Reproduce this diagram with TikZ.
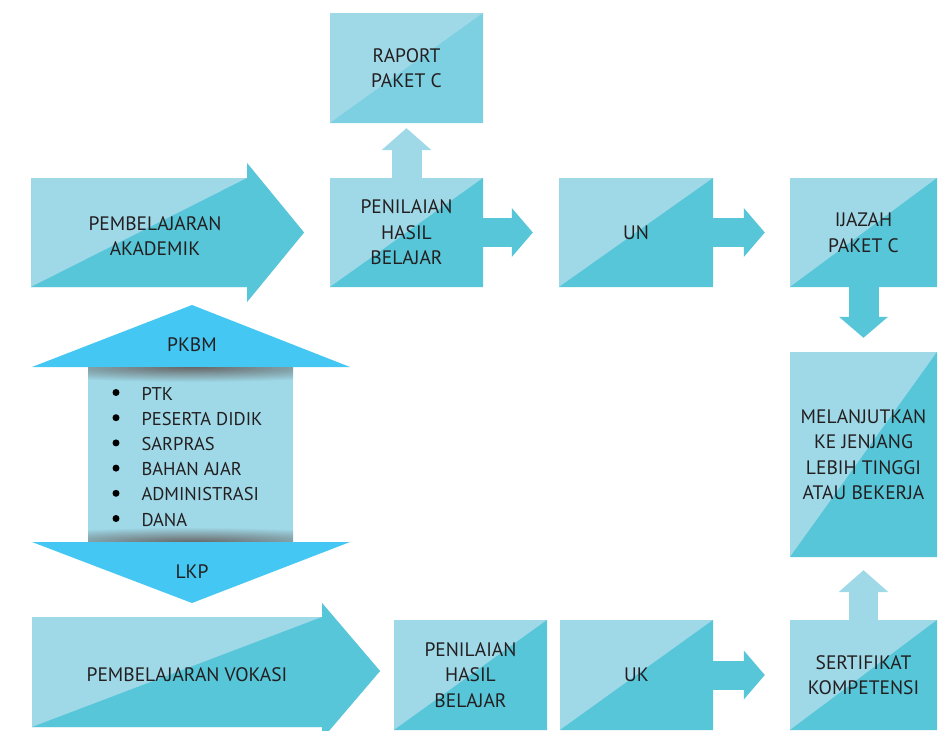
\documentclass[tikz,border=0pt]{standalone}
\usepackage{fontspec}
\setmainfont{PT Sans}
\usetikzlibrary{arrows.meta}

\definecolor{lightc}{RGB}{159,217,232}
\definecolor{darkc}{RGB}{87,198,217}
\definecolor{midc}{RGB}{125,208,226}
\definecolor{brightc}{RGB}{68,199,242}
\definecolor{textc}{RGB}{35,31,32}

\tikzset{
  splitbox/.style={rectangle, fill=lightc, inner sep=0pt, align=center,
    path picture={\fill[#1] (path picture bounding box.south west)
      -- (path picture bounding box.north east) |- cycle;}},
  splitbox/.default=darkc,
  flow/.style={draw=#1, line width=29pt,
    -{Triangle[width=49pt,length=21pt,line width=0pt]}},
}

\begin{document}
\begin{tikzpicture}[x=1pt, y=-1pt, font=\fontsize{19.5}{25.5}\selectfont, text=textc]

      \useasboundingbox (0,0) rectangle (938,731);

      \fill[lightc] (31,178) -- (247,178) -- (247,163) -- (304,232.5)
        -- (247,302) -- (247,287) -- (31,287) -- cycle;
      \fill[darkc] (31,287) -- (247,178) -- (247,163) -- (304,232.5)
        -- (247,302) -- (247,287) -- cycle;

      \fill[lightc] (32,617) -- (322,617) -- (322,603) -- (380,671)
        -- (322,739) -- (322,727) -- (32,727) -- cycle;
      \fill[darkc] (32,727) -- (322,617) -- (322,603) -- (380,671)
        -- (322,739) -- (322,727) -- cycle;

      \fill[brightc] (32,367) -- (192,305) -- (350,367) -- cycle;
      \fill[lightc] (88,367) rectangle (293,542);
      \begin{scope}
        \clip (88,367) rectangle (293,542);
        \shade[inner color=black!60, outer color=lightc] (191,367) ellipse [x radius=200, y radius=15];
        \shade[inner color=black!60, outer color=lightc] (191,542) ellipse [x radius=200, y radius=15];
      \end{scope}
      \fill[brightc] (32,542) -- (350,542) -- (192,603) -- cycle;

      \node[align=center] (akademik) at (155,236) {PEMBELAJARAN\\AKADEMIK};
      \node (vokasi) at (187,675) {PEMBELAJARAN VOKASI};
      \node (pkbm)   at (192,345) {PKBM};
      \node (lkp)    at (192,572) {LKP};

      \begin{scope}[every node/.style={font=\fontsize{18.5}{24}\selectfont}]
        \foreach \t [count=\i] in {PTK, PESERTA DIDIK, SARPRAS, BAHAN AJAR, ADMINISTRASI, DANA} {
          \node[anchor=base west] (item\i) at (138,{400+25.2*(\i-1)}) {\t};
          \fill (116,{392.5+25.2*(\i-1)}) circle [radius=3.5];
        }
      \end{scope}

      \begin{scope}[every node/.style={splitbox, align=center}]
        \node[splitbox=midc, minimum width=153pt, minimum height=110pt] (1) at (406.5,68)    {RAPORT\\PAKET C};
        \node[minimum width=153pt, minimum height=109pt]                (2) at (406.5,232.5) {PENILAIAN\\HASIL\\BELAJAR};
        \node[minimum width=154pt, minimum height=109pt]                (3) at (636,232.5)   {UN};
        \node[minimum width=147pt, minimum height=109pt]                (4) at (863.5,232.5) {IJAZAH\\PAKET C};
        \node[minimum width=147pt, minimum height=205pt]                (5) at (863.5,454.5) {MELANJUTKAN\\KE JENJANG\\LEBIH TINGGI\\ATAU BEKERJA};
        \node[minimum width=147pt, minimum height=110pt]                (6) at (863.5,675)   {SERTIFIKAT\\KOMPETENSI};
        \node[minimum width=153pt, minimum height=110pt]                (7) at (636.5,675)   {UK};
        \node[minimum width=153pt, minimum height=110pt]                (8) at (470.5,675)   {PENILAIAN\\HASIL\\BELAJAR};
      \end{scope}

      \begin{scope}[every edge/.style={draw}]
        \path (2.north) edge[flow=lightc, line width=30pt, -{Triangle[width=50pt,length=22pt,line width=0pt]}, shorten >=5pt] (1.south);
        \path (2) edge[flow=darkc, shorten >=26pt] (3);
        \path (3) edge[flow=darkc, shorten >=25pt] (4);
        \path (4) edge[flow=darkc, line width=30pt, shorten >=14pt] (5);
        \path (6.north) edge[flow=lightc, -{Triangle[width=50pt,length=22pt,line width=0pt]}, shorten >=13pt] (5.south);
        \path (7) edge[flow=darkc, shorten >=25pt] (6);
      \end{scope}

    \end{tikzpicture}
\end{document}
